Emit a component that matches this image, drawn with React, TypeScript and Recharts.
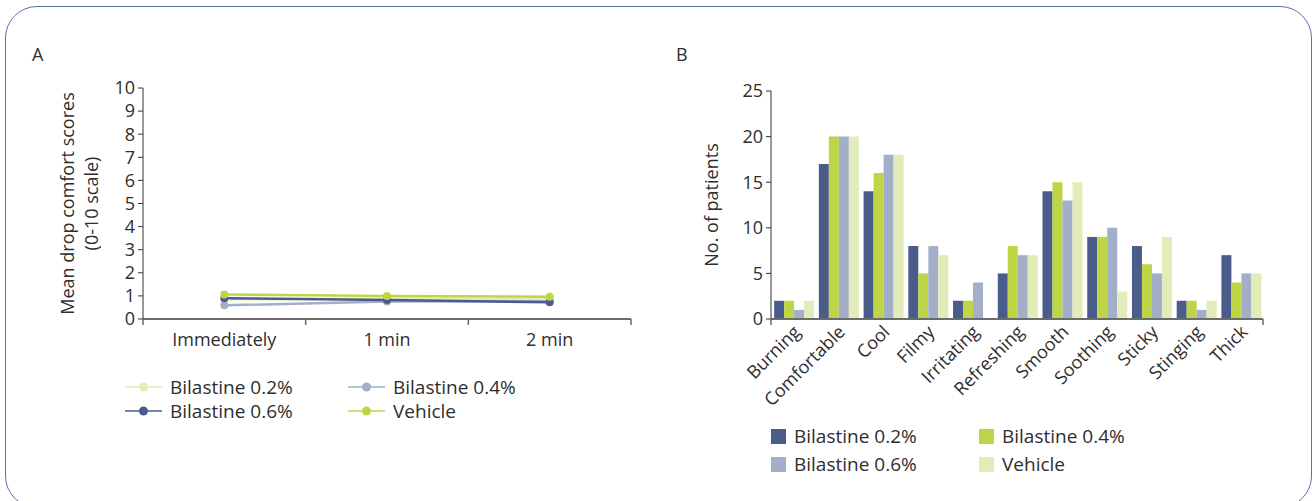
import React from 'react';
import { LineChart, Line, BarChart, Bar, XAxis, YAxis, Legend, Label } from 'recharts';

// panel A – mean drop comfort score over time
const timePoints = ['Immediately', '1 min', '2 min'];
const comfort02 = [0.85, 0.88, 0.86];
const comfort04 = [0.59, 0.76, 0.77];
const comfort06 = [0.9, 0.82, 0.72];
const comfortVehicle = [1.06, 1.0, 0.96];
const comfortTicks = [0, 1, 2, 3, 4, 5, 6, 7, 8, 9, 10];

// panel B – descriptors chosen by patients
const attributes = [
  'Burning', 'Comfortable', 'Cool', 'Filmy', 'Irritating', 'Refreshing',
  'Smooth', 'Soothing', 'Sticky', 'Stinging', 'Thick'
];
const patients02 = [2, 17, 14, 8, 2, 5, 14, 9, 8, 2, 7];
const patients04 = [2, 20, 16, 5, 2, 8, 15, 9, 6, 2, 4];
const patients06 = [1, 20, 18, 8, 4, 7, 13, 10, 5, 1, 5];
const patientsVehicle = [2, 20, 18, 7, 0, 7, 15, 3, 9, 2, 5];
const patientTicks = [0, 5, 10, 15, 20, 25];

const seriesNames = ['Bilastine 0.2%', 'Bilastine 0.4%', 'Bilastine 0.6%', 'Vehicle'];

const DARK_BLUE = '#4a5d8a';
const GREEN = '#bed645';
const LIGHT_BLUE = '#a3aec9';
const LIGHT_GREEN = '#e2ecb9';
const TEXT = '#2e2e2e';
const FONT = '"Open Sans", sans-serif';

const lineColors = [LIGHT_GREEN, LIGHT_BLUE, DARK_BLUE, GREEN];
const barColors = [DARK_BLUE, GREEN, LIGHT_BLUE, LIGHT_GREEN];

const comfortData = timePoints.map((time, i) => ({
  time,
  b02: comfort02[i],
  b04: comfort04[i],
  b06: comfort06[i],
  vehicle: comfortVehicle[i]
}));

const patientData = attributes.map((name, i) => ({
  name,
  b02: patients02[i],
  b04: patients04[i],
  b06: patients06[i],
  vehicle: patientsVehicle[i]
}));

const keys = ['b02', 'b04', 'b06', 'vehicle'];
const TIME_GAP = 14;
const ATTR_GAP = 4;

const boundaryTicks = (x: number, axisY: number, half: number, index: number, count: number, all: boolean) => {
  const xs: number[] = [];
  if (index === 0) xs.push(x - half);
  if (all || index === count - 1) xs.push(x + half);
  return xs.map((lx, i) => (
    <line key={i} x1={lx} x2={lx} y1={axisY} y2={axisY + 6} stroke="#6b6b6b" strokeWidth={1.5} />
  ));
};

const TimeTick = (props: any) => {
  const { x, y, payload, index, visibleTicksCount, width } = props;
  const half = payload.offset || width / visibleTicksCount / 2;
  return (
    <g>
      {boundaryTicks(x, y - TIME_GAP, half, index, visibleTicksCount, true)}
      <text x={x} y={y} dy="0.71em" textAnchor="middle" fill={TEXT} fontSize={18} fontFamily={FONT}>
        {payload.value}
      </text>
    </g>
  );
};

const AttributeTick = (props: any) => {
  const { x, y, payload, index, visibleTicksCount, width } = props;
  const half = payload.offset || width / visibleTicksCount / 2;
  const ax = x + 8;
  const ay = y + 10;
  return (
    <g>
      {boundaryTicks(x, y - ATTR_GAP, half, index, visibleTicksCount, false)}
      <text
        x={ax}
        y={ay}
        textAnchor="end"
        transform={`rotate(-45, ${ax}, ${ay})`}
        fill={TEXT}
        fontSize={18}
        fontFamily={FONT}
      >
        {payload.value}
      </text>
    </g>
  );
};

const ComfortAxisLabel = (props: any) => {
  const vb = props.viewBox || { x: 43, y: 88, width: 100, height: 231 };
  const cx = vb.x + 30.5;
  const cy = vb.y + vb.height / 2;
  return (
    <text x={cx} y={cy} transform={`rotate(-90, ${cx}, ${cy})`} textAnchor="middle" fill={TEXT} fontSize={18} fontFamily={FONT}>
      <tspan x={cx} dy={0}>Mean drop comfort scores</tspan>
      <tspan x={cx} dy={24}>(0-10 scale)</tspan>
    </text>
  );
};

const PatientAxisLabel = (props: any) => {
  const vb = props.viewBox || { x: 20, y: 91, width: 91, height: 228 };
  const cx = vb.x + 37.5;
  const cy = vb.y + vb.height / 2;
  return (
    <text x={cx} y={cy} transform={`rotate(-90, ${cx}, ${cy})`} textAnchor="middle" fill={TEXT} fontSize={18} fontFamily={FONT}>
      No. of patients
    </text>
  );
};

const legendText: React.CSSProperties = {
  display: 'block',
  height: 24,
  fontSize: 19,
  color: TEXT,
  fontFamily: FONT,
  whiteSpace: 'nowrap',
  lineHeight: '24px'
};

const LineLegend = () => (
  <div
    style={{
      boxSizing: 'border-box',
      height: 60,
      paddingLeft: 82,
      paddingTop: 15,
      display: 'grid',
      gridTemplateColumns: '223px auto'
    }}
  >
    {seriesNames.map((name, i) => (
      <div key={name} style={{ display: 'flex', alignItems: 'center', height: 24 }}>
        <svg width={37} height={14} style={{ marginRight: 8 }}>
          <line x1={0} x2={37} y1={7} y2={7} stroke={lineColors[i]} strokeWidth={1.5} />
          <circle cx={18.5} cy={7} r={4.5} fill={lineColors[i]} />
        </svg>
        <span style={legendText}>{name}</span>
      </div>
    ))}
  </div>
);

const BarLegend = () => (
  <div
    style={{
      boxSizing: 'border-box',
      height: 60,
      paddingLeft: 91,
      paddingTop: 4,
      display: 'grid',
      gridTemplateColumns: '208px auto'
    }}
  >
    {seriesNames.map((name, i) => (
      <div key={name} style={{ display: 'flex', alignItems: 'center', height: 24 }}>
        <div style={{ width: 15, height: 15, background: barColors[i], marginRight: 8 }} />
        <span style={legendText}>{name}</span>
      </div>
    ))}
  </div>
);

const panelLetter: React.CSSProperties = {
  position: 'absolute',
  top: 44,
  fontSize: 18,
  lineHeight: '20px',
  color: TEXT,
  fontFamily: FONT
};

export default function App() {
  return (
    <div style={{ position: 'absolute', left: 0, top: 0, width: 1312, height: 501, overflow: 'hidden', background: '#fff', fontFamily: FONT }}>
      <div
        style={{
          position: 'absolute',
          left: 5,
          top: 6,
          width: 1307,
          height: 502,
          boxSizing: 'border-box',
          border: '1.5px solid #5b72a6',
          borderRadius: 32
        }}
      />
      <div style={{ ...panelLetter, left: 32 }}>A</div>
      <div style={{ ...panelLetter, left: 676 }}>B</div>

      <div style={{ position: 'absolute', left: 0, top: 0 }}>
        <LineChart width={660} height={460} data={comfortData} margin={{ top: 88, right: 29, bottom: 40, left: 43 }}>
          <XAxis
            dataKey="time"
            scale="band"
            height={41}
            interval={0}
            axisLine={{ stroke: '#6b6b6b', strokeWidth: 2 }}
            tickLine={false}
            tickSize={0}
            tickMargin={TIME_GAP}
            tick={<TimeTick />}
          />
          <YAxis
            domain={[0, 10]}
            ticks={comfortTicks}
            interval={0}
            width={100}
            axisLine={{ stroke: '#333' }}
            tickLine={{ stroke: '#333' }}
            tickSize={5}
            tickMargin={3}
            tick={{ fill: TEXT, fontSize: 18, fontFamily: FONT }}
          >
            <Label content={<ComfortAxisLabel />} />
          </YAxis>
          <Legend verticalAlign="bottom" align="left" content={<LineLegend />} />
          {keys.map((k, i) => (
            <Line
              key={k}
              dataKey={k}
              name={seriesNames[i]}
              stroke={lineColors[i]}
              strokeWidth={2.5}
              dot={{ r: 4, fill: lineColors[i], stroke: 'none' }}
              isAnimationActive={false}
            />
          ))}
        </LineChart>
      </div>

      <div style={{ position: 'absolute', left: 660, top: 0 }}>
        <BarChart
          width={652}
          height={500}
          data={patientData}
          margin={{ top: 91, right: 49, bottom: 20, left: 20 }}
          barCategoryGap="7%"
          barGap={0}
        >
          <XAxis
            dataKey="name"
            height={101}
            interval={0}
            axisLine={{ stroke: '#6b6b6b', strokeWidth: 2 }}
            tickLine={false}
            tickSize={0}
            tickMargin={ATTR_GAP}
            tick={<AttributeTick />}
          />
          <YAxis
            domain={[0, 25]}
            ticks={patientTicks}
            interval={0}
            width={91}
            axisLine={{ stroke: '#333' }}
            tickLine={{ stroke: '#333' }}
            tickSize={5}
            tickMargin={3}
            tick={{ fill: TEXT, fontSize: 18, fontFamily: FONT }}
          >
            <Label content={<PatientAxisLabel />} />
          </YAxis>
          <Legend verticalAlign="bottom" align="left" content={<BarLegend />} />
          {keys.map((k, i) => (
            <Bar key={k} dataKey={k} name={seriesNames[i]} fill={barColors[i]} isAnimationActive={false} />
          ))}
        </BarChart>
      </div>
    </div>
  );
}
